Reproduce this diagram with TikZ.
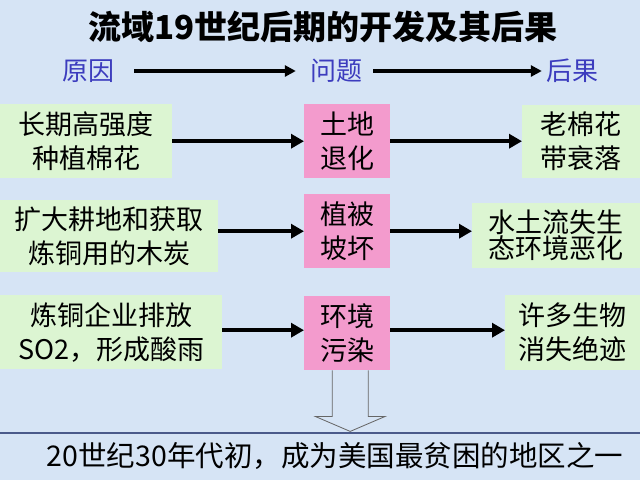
\documentclass[tikz,border=0pt]{standalone}
\usepackage{fontspec}
\newfontfamily\cjk{Noto Sans CJK SC}
\usetikzlibrary{arrows.meta,calc}
\definecolor{bgblue}{RGB}{214,228,245}
\definecolor{boxgreen}{RGB}{220,245,210}
\definecolor{boxpink}{RGB}{243,155,205}
\definecolor{hdrblue}{RGB}{60,60,190}
\definecolor{rulecol}{RGB}{74,90,138}
\begin{document}
\begin{tikzpicture}[x=1pt,y=-1pt,
  every node/.style={font=\cjk},
  txt/.style={font=\cjk\fontsize{27}{34}\selectfont, align=center, inner sep=0pt, anchor=north west},
  greenbox/.style={txt, fill=boxgreen},
  pinkbox/.style={txt, fill=boxpink},
  arr/.style={line width=4pt, -{Triangle[length=13pt,width=14pt]}},
  harr/.style={line width=3.2pt, -{Triangle[length=11pt,width=11pt]}},
  hdr/.style={font=\cjk\fontsize{26}{30}\selectfont, text=hdrblue, inner sep=0pt}
]
\fill[bgblue] (0,0) rectangle (640,480);
\useasboundingbox (0,0) rectangle (640,480);

% title
\node[font=\cjk\bfseries\fontsize{33}{40}\selectfont, inner sep=0pt] (title) at (323,27) {流域19世纪后期的开发及其后果};

% header row
\node[hdr] (h1) at (88,71) {原因};
\node[hdr] (h2) at (336,71) {问题};
\node[hdr] (h3) at (572,71) {后果};
\draw[harr, shorten <=20pt, shorten >=14pt] (h1.east) -- (h2.west);
\draw[harr, shorten <=11pt, shorten >=4pt] (h2.east) -- (h3.west);

% left column
\node[greenbox, minimum width=172pt, minimum height=74pt] (L1) at (0,104) {长期高强度\\种植棉花};
\node[greenbox, minimum width=218pt, minimum height=72pt] (L2) at (0,200) {扩大耕地和获取\\炼铜用的木炭};
\node[greenbox, minimum width=222pt, minimum height=74pt] (L3) at (0,295) {炼铜企业排放\\SO2，形成酸雨};

% middle column
\node[pinkbox, minimum width=86pt, minimum height=74pt] (P1) at (304,104) {土地\\退化};
\node[pinkbox, minimum width=86pt, minimum height=74pt] (P2) at (304,194) {植被\\坡坏};
\node[pinkbox, minimum width=86pt, minimum height=74pt] (P3) at (304,296) {环境\\污染};

% right column
\node[greenbox, minimum width=118pt, minimum height=73pt] (R1) at (522,105) {老棉花\\带衰落};
\node[greenbox, minimum width=168pt, minimum height=65pt, font=\cjk\fontsize{27}{26}\selectfont] (R2) at (472,203) {水土流失生\\态环境恶化};
\node[greenbox, minimum width=135pt, minimum height=75pt] (R3) at (505,295) {许多生物\\消失绝迹};

% arrows
\draw[arr] (L1.east) -- (P1.west);
\draw[arr] (P1.east) -- (R1.west |- P1.east);
\draw[arr] (L2.east |- P2.west) -- (P2.west);
\draw[arr] (P2.east) -- (R2.west |- P2.east);
\draw[arr] ($(L3.east |- P3.west)+(0,-3)$) -- ($(P3.west)+(0,-3)$);
\draw[arr] ($(P3.east)+(0,-3)$) -- ($(R3.west |- P3.east)+(0,-3)$);

% bottom rule and open arrow
\coordinate (rl) at (0,433);
\coordinate (rr) at (640,433);
\draw[rulecol, line width=1.3pt] (rl) -- (rr);
\coordinate (tip) at ($(P3.south)+(3,61)$);
\draw[gray!80!black, line width=0.8pt]
  ($(P3.south)+(-15,0)$) -- ($(P3.south)+(-15,46)$) -- ($(P3.south)+(-32,46)$)
  -- (tip) -- ($(P3.south)+(38,46)$) -- ($(P3.south)+(21,46)$) -- ($(P3.south)+(21,0)$);

% bottom text
\node[font=\cjk\fontsize{28.5}{30}\selectfont, inner sep=0pt] (bottom) at (335,456) {20世纪30年代初，成为美国最贫困的地区之一};
\end{tikzpicture}
\end{document}
